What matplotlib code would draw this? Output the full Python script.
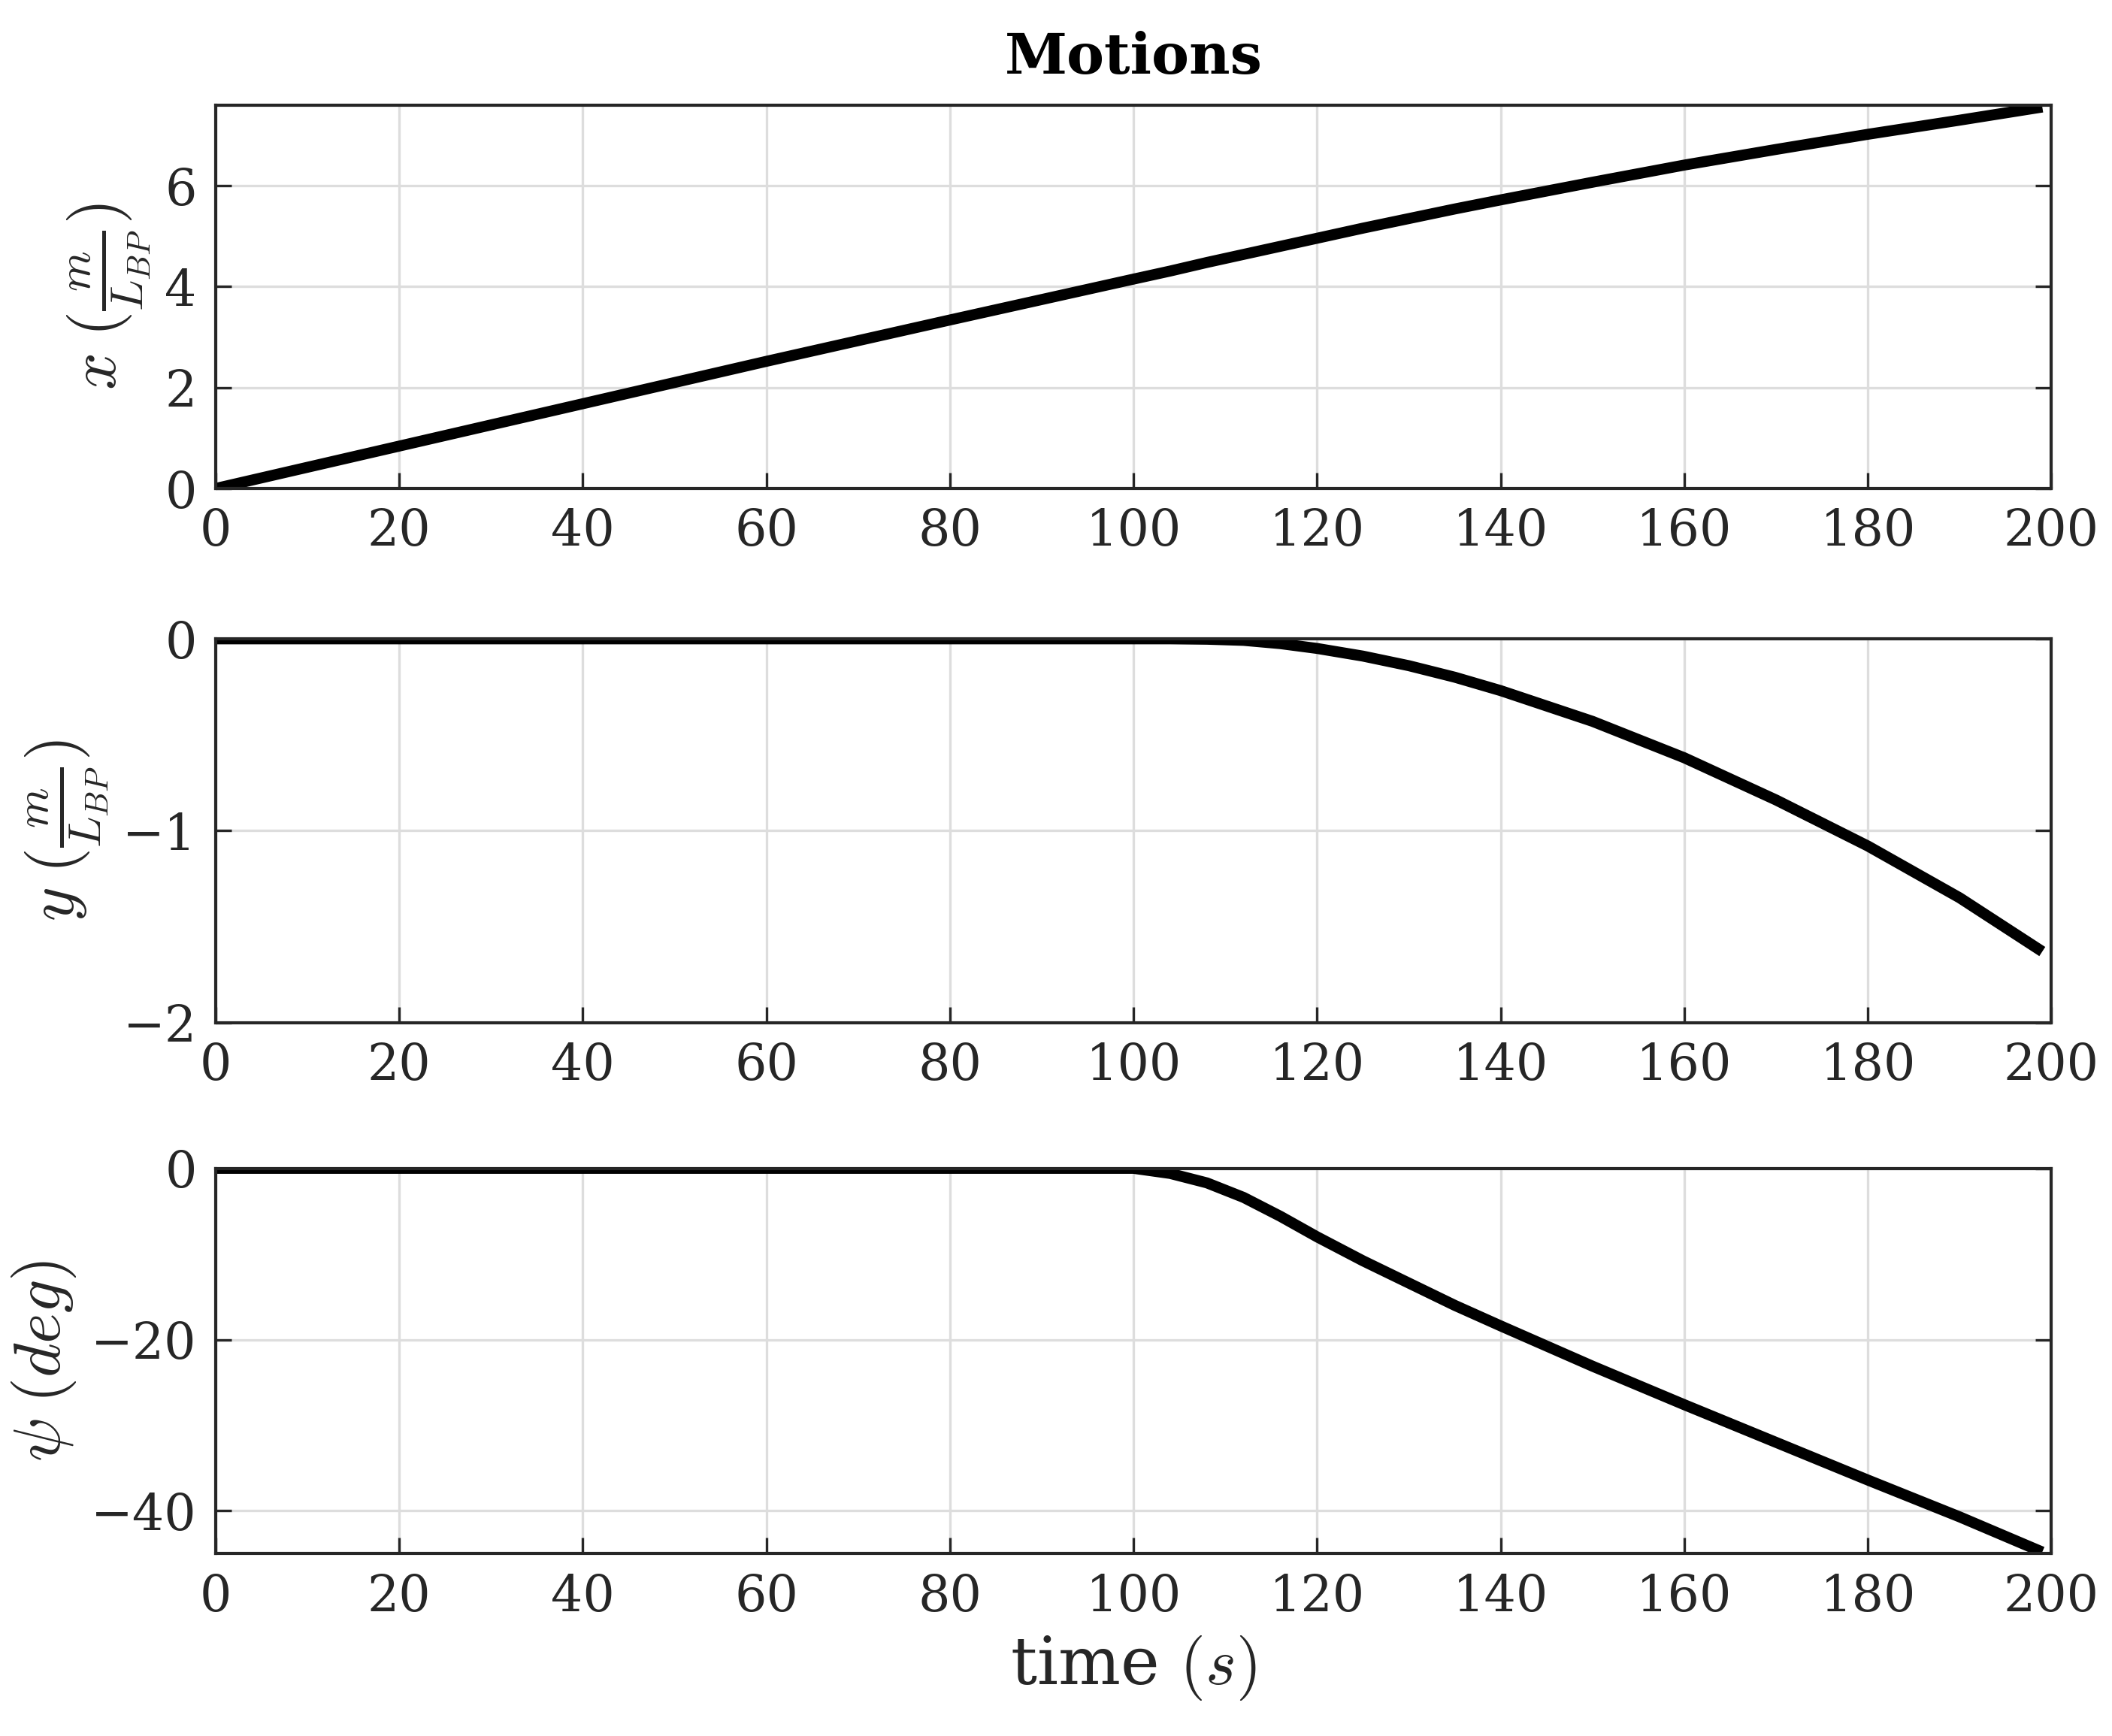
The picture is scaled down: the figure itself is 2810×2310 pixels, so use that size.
import matplotlib
matplotlib.use("Agg")
import matplotlib.pyplot as plt

plt.rcParams['mathtext.fontset'] = 'cm'
plt.rcParams['font.family'] = ['DejaVu Serif']

t = [0, 20, 40, 60, 80, 100, 104, 108, 112, 116, 120, 125, 130, 135, 140, 150, 160, 170, 180, 190, 199]
x = [0, 0.84, 1.68, 2.52, 3.34, 4.15, 4.31, 4.48, 4.64, 4.80, 4.96, 5.16, 5.35, 5.54, 5.72, 6.07, 6.41, 6.72, 7.02, 7.3, 7.56]
y = [0, 0, 0, 0, 0, 0, 0, -0.002, -0.008, -0.025, -0.05, -0.09, -0.14, -0.2, -0.27, -0.43, -0.62, -0.84, -1.08, -1.35, -1.63]
psi = [0, 0, 0, 0, 0, 0, -0.6, -1.7, -3.4, -5.6, -8.0, -10.8, -13.4, -16.0, -18.4, -23.1, -27.6, -32.0, -36.4, -40.7, -44.8]

fig = plt.figure(figsize=(9.37, 7.7), dpi=300)
rects = [(0.102, 0.7186, 0.869, 0.2209),
         (0.102, 0.411, 0.869, 0.221),
         (0.102, 0.105, 0.869, 0.222)]
series = [x, y, psi]
ylims = [(0, 7.6), (-2, 0), (-45, 0)]
yticks = [[0, 2, 4, 6], [-2, -1, 0], [-40, -20, 0]]
ylabels = [r'$x\;(\frac{m}{L_{BP}})$', r'$y\;(\frac{m}{L_{BP}})$', r'$\psi\;(deg)$']
for i, (r, s) in enumerate(zip(rects, series)):
    ax = fig.add_axes(r)
    ax.plot(t, s, color='black', lw=3.5, solid_capstyle='butt')
    ax.set_xlim(0, 200)
    ax.set_ylim(*ylims[i])
    ax.set_xticks(range(0, 201, 20))
    ax.set_yticks(yticks[i])
    ax.grid(True, color='#dddddd', lw=0.8)
    ax.tick_params(direction='in', right=True, top=False, labelsize=16, length=5,
                   color='#262626', labelcolor='#262626', pad=6)
    ax.set_ylabel(ylabels[i], fontsize=21, color='#262626')
    for sp in ax.spines.values():
        sp.set_linewidth(1.0)
        sp.set_color('#262626')
    if i == 0:
        ax.set_title('Motions', fontsize=18, fontweight='bold', pad=10)
    if i == 2:
        ax.set_xlabel(r'time $(s)$', fontsize=21, color='#262626')
fig.savefig('out.png', dpi=300)
